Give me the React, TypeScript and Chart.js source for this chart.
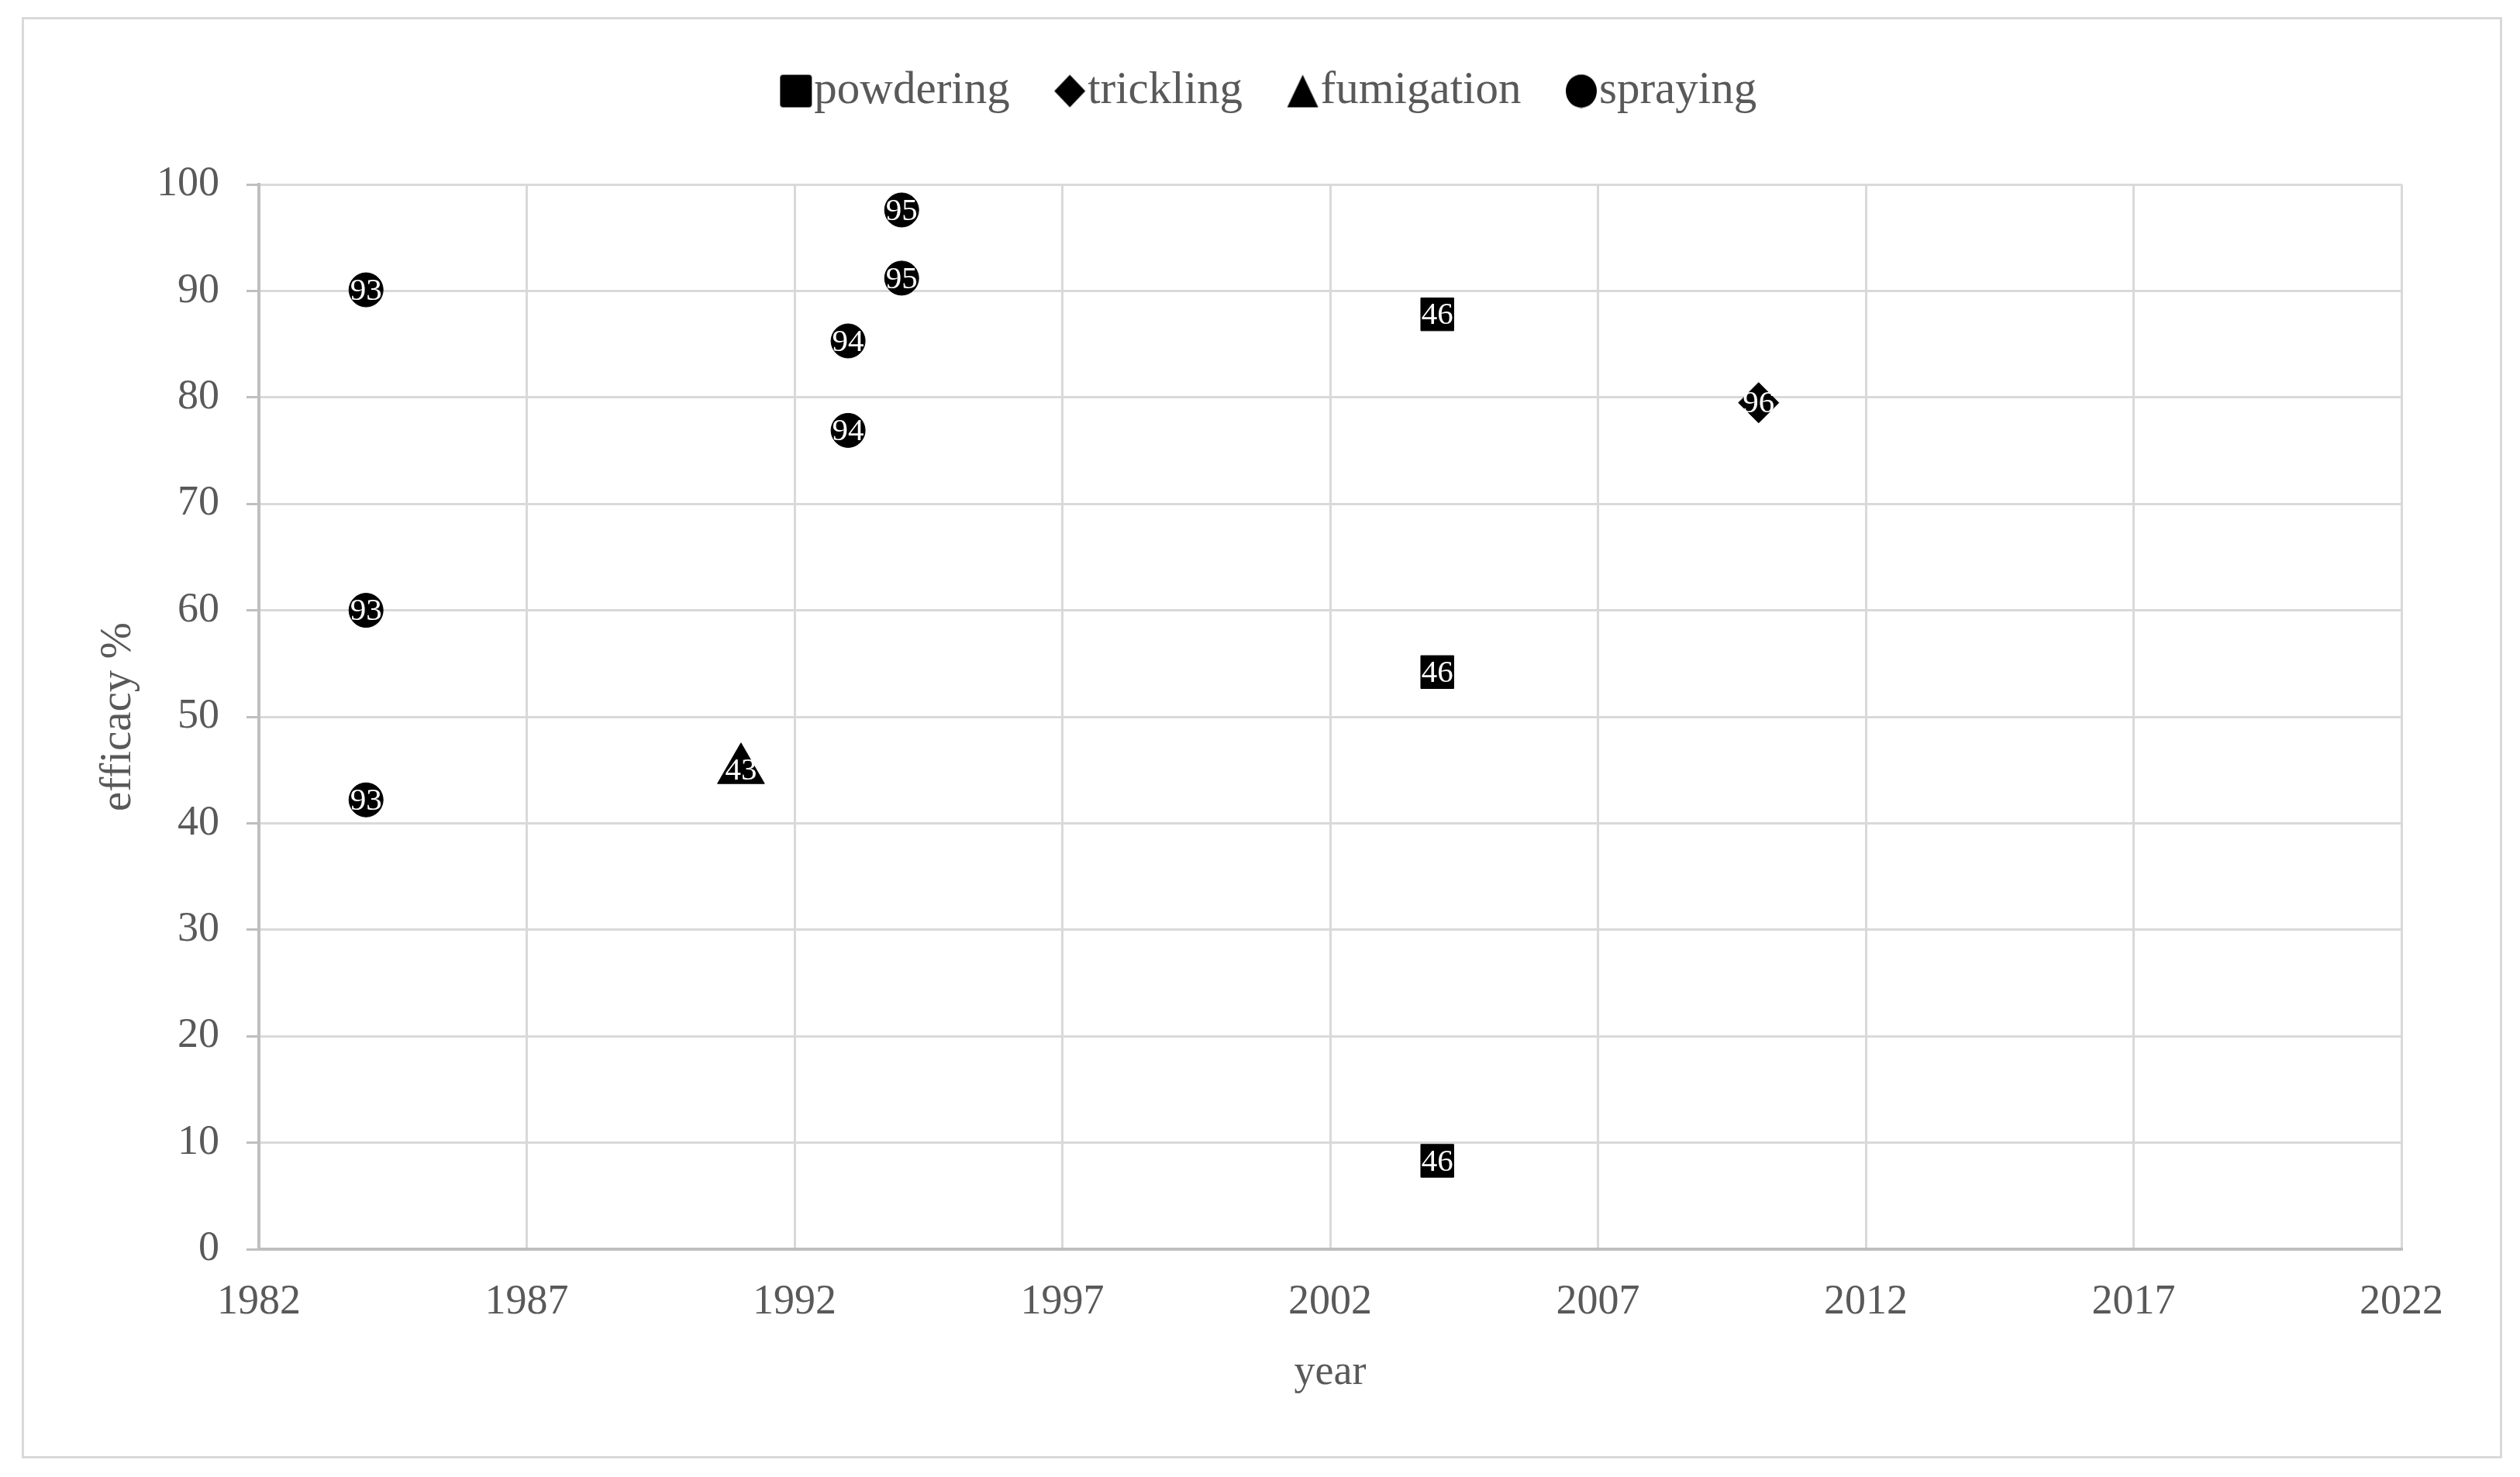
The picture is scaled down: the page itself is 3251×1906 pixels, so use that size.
import React, { useEffect, useRef } from "react";
import { Chart, registerables } from "chart.js";

Chart.register(...registerables);

// ---- Data ----
const seriesNames = ["powdering", "trickling", "fumigation", "spraying"];

const powderingYears = [2004, 2004, 2004];
const powderingEfficacy = [87.8, 54.2, 8.3];
const powderingLabels = ["46", "46", "46"];

const tricklingYears = [2010];
const tricklingEfficacy = [79.5];
const tricklingLabels = ["96"];

const fumigationYears = [1991];
const fumigationEfficacy = [45];
const fumigationLabels = ["43"];

const sprayingYears = [1984, 1984, 1984, 1993, 1993, 1994, 1994];
const sprayingEfficacy = [90.1, 60.0, 42.2, 85.3, 76.9, 97.6, 91.2];
const sprayingLabels = ["93", "93", "93", "94", "94", "95", "95"];

const xTickValues = [1982, 1987, 1992, 1997, 2002, 2007, 2012, 2017, 2022];
const yTickValues = [0, 10, 20, 30, 40, 50, 60, 70, 80, 90, 100];

const xAxisTitle = "year";
const yAxisTitle = "efficacy %";

const labelSets = [powderingLabels, tricklingLabels, fumigationLabels, sprayingLabels];
const legendShapes = ["square", "diamond", "triangle", "circle"];

const SERIF = "'Liberation Serif', 'Times New Roman', serif";
const TEXT_GRAY = "#595959";

const toPoints = (xs: number[], ys: number[]) => xs.map((x, i) => ({ x, y: ys[i] }));

// small legend marker images (legend symbol only)
function makeLegendMarker(shape: string): HTMLCanvasElement {
  const padL = 14;
  const w = 42;
  const h = 44;
  const c = document.createElement("canvas");
  c.width = w + padL;
  c.height = h;
  const g = c.getContext("2d")!;
  g.fillStyle = "#000000";
  g.beginPath();
  if (shape === "square") {
    const r = 4;
    const x0 = padL, y0 = 1, ww = 41, hh = 42;
    g.moveTo(x0 + r, y0);
    g.arcTo(x0 + ww, y0, x0 + ww, y0 + hh, r);
    g.arcTo(x0 + ww, y0 + hh, x0, y0 + hh, r);
    g.arcTo(x0, y0 + hh, x0, y0, r);
    g.arcTo(x0, y0, x0 + ww, y0, r);
  } else if (shape === "diamond") {
    const cx = padL + 21, cy = 22;
    g.moveTo(cx, cy - 21);
    g.lineTo(cx + 20, cy);
    g.lineTo(cx, cy + 21);
    g.lineTo(cx - 20, cy);
  } else if (shape === "triangle") {
    const cx = padL + 21;
    g.moveTo(cx, 1);
    g.lineTo(cx + 20, 43);
    g.lineTo(cx - 20, 43);
  } else {
    g.ellipse(padL + 21, 22, 20, 21.5, 0, 0, Math.PI * 2);
  }
  g.closePath();
  g.fill();
  return c;
}

const backgroundPlugin = {
  id: "bgAndFrame",
  beforeDraw(chart: any) {
    const ctx = chart.ctx;
    ctx.save();
    ctx.fillStyle = "#ffffff";
    ctx.fillRect(0, 0, chart.width, chart.height);
    ctx.strokeStyle = "#d9d9d9";
    ctx.lineWidth = 3;
    ctx.strokeRect(29.5, 23.5, 3197, 1857);
    ctx.restore();
  },
};

const pointLabelPlugin = {
  id: "pointLabels",
  afterDatasetsDraw(chart: any) {
    const ctx = chart.ctx;
    chart.data.datasets.forEach((_ds: any, i: number) => {
      const meta = chart.getDatasetMeta(i);
      const labels = labelSets[i] || [];
      meta.data.forEach((el: any, j: number) => {
        const txt = labels[j];
        if (!txt) return;
        ctx.save();
        ctx.fillStyle = "#ffffff";
        ctx.font = `41px ${SERIF}`;
        ctx.textAlign = "center";
        ctx.textBaseline = "middle";
        ctx.fillText(txt, el.x, el.y + 2);
        ctx.restore();
      });
    });
  },
};

const legendSpacerPlugin = {
  id: "legendSpacer",
  beforeInit(chart: any) {
    const lg = chart.legend;
    if (lg && !lg.__spaced) {
      const orig = lg.fit;
      lg.fit = function () {
        orig.call(this);
        this.height += 81;
      };
      lg.__spaced = true;
    }
  },
  afterLayout(chart: any) {
    const lg = chart.legend;
    if (lg) {
      lg.left += 94;
      lg.right += 94;
    }
  },
};

export default function App() {
  const canvasRef = useRef<HTMLCanvasElement | null>(null);

  useEffect(() => {
    if (!canvasRef.current) return;
    const markers = legendShapes.map(makeLegendMarker);
    const chart = new Chart(canvasRef.current, {
      type: "scatter",
      data: {
        datasets: [
          {
            label: seriesNames[0],
            data: toPoints(powderingYears, powderingEfficacy),
            pointStyle: "rect",
            pointRadius: 30,
            backgroundColor: "#000000",
            borderColor: "#000000",
            borderWidth: 1,
          },
          {
            label: seriesNames[1],
            data: toPoints(tricklingYears, tricklingEfficacy),
            pointStyle: "rectRot",
            pointRadius: 26,
            backgroundColor: "#000000",
            borderColor: "#000000",
            borderWidth: 1,
          },
          {
            label: seriesNames[2],
            data: toPoints(fumigationYears, fumigationEfficacy),
            pointStyle: "triangle",
            pointRadius: 35,
            backgroundColor: "#000000",
            borderColor: "#000000",
            borderWidth: 1,
          },
          {
            label: seriesNames[3],
            data: toPoints(sprayingYears, sprayingEfficacy),
            pointStyle: "circle",
            pointRadius: 22,
            backgroundColor: "#000000",
            borderColor: "#000000",
            borderWidth: 1,
          },
        ],
      },
      options: {
        animation: false,
        responsive: true,
        maintainAspectRatio: false,
        devicePixelRatio: 1,
        events: [],
        layout: { padding: { top: 18, left: 0, right: 153, bottom: 0 } },
        plugins: {
          tooltip: { enabled: false },
          legend: {
            display: true,
            position: "top",
            labels: {
              usePointStyle: true,
              boxWidth: 1,
              boxHeight: 1,
              padding: 70,
              color: TEXT_GRAY,
              font: { family: SERIF, size: 59 },
              generateLabels: (chart: any) => {
                const items = Chart.defaults.plugins.legend.labels.generateLabels(chart);
                return items.map((it: any, idx: number) => ({ ...it, pointStyle: markers[idx] }));
              },
            },
          },
        },
        scales: {
          x: {
            type: "linear",
            min: 1982,
            max: 2022,
            afterBuildTicks: (scale: any) => {
              scale.ticks = xTickValues.map((v) => ({ value: v }));
            },
            afterFit: (scale: any) => {
              scale.height = 294;
            },
            ticks: {
              color: TEXT_GRAY,
              font: { family: SERIF, size: 54 },
              padding: 36,
              maxRotation: 0,
              autoSkip: false,
              callback: (v: any) => String(v),
            },
            grid: { color: "#d9d9d9", lineWidth: 3, drawTicks: false },
            border: { color: "#bfbfbf", width: 4 },
            title: {
              display: true,
              text: xAxisTitle,
              color: TEXT_GRAY,
              font: { family: SERIF, size: 54 },
              padding: { top: 0, bottom: 102 },
            },
          },
          y: {
            type: "linear",
            min: 0,
            max: 100,
            afterBuildTicks: (scale: any) => {
              scale.ticks = yTickValues.map((v) => ({ value: v }));
            },
            afterFit: (scale: any) => {
              scale.width = 334;
            },
            ticks: {
              color: TEXT_GRAY,
              font: { family: SERIF, size: 54 },
              padding: 35,
              callback: (v: any) => String(v),
            },
            grid: {
              color: "#d9d9d9",
              lineWidth: 3,
              drawTicks: true,
              tickLength: 16,
              tickColor: "#bfbfbf",
              tickWidth: 3,
            },
            border: { color: "#bfbfbf", width: 4 },
            title: {
              display: true,
              text: yAxisTitle,
              color: TEXT_GRAY,
              font: { family: SERIF, size: 57 },
              padding: { top: 119, bottom: 0 },
            },
          },
        },
      },
      plugins: [backgroundPlugin, pointLabelPlugin, legendSpacerPlugin],
    } as any);
    return () => chart.destroy();
  }, []);

  return (
    <div style={{ position: "absolute", left: 0, top: 0, width: 3251, height: 1906, background: "#fff" }}>
      <canvas ref={canvasRef} />
    </div>
  );
}
